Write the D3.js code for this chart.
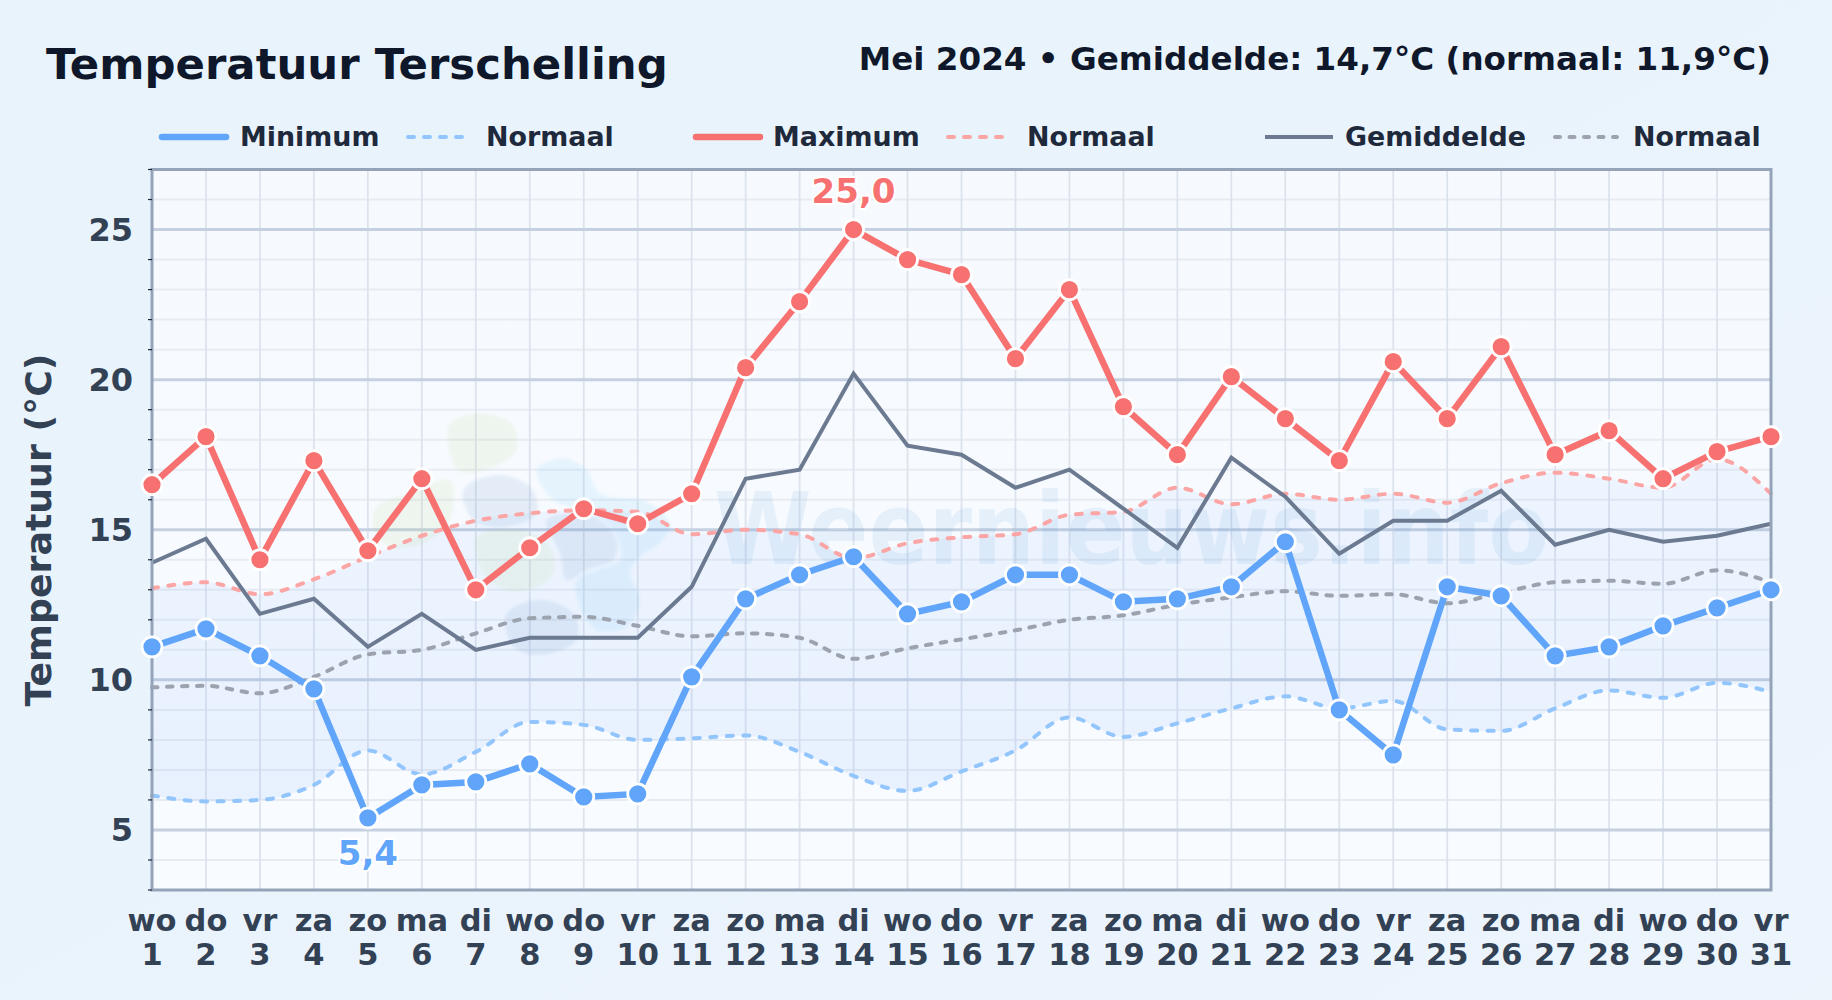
<!DOCTYPE html>
<html><head><meta charset="utf-8">
<script src="https://cdn.jsdelivr.net/npm/d3@7"></script>
<style>html,body{margin:0;padding:0;background:#e9f3fb}svg{display:block}text{font-family:"DejaVu Sans",sans-serif;font-weight:700}</style>
</head><body><svg id="c" width="1832" height="1000"></svg>
<script>
const days=d3.range(1,32);
const weekdays=["wo","do","vr","za","zo","ma","di","wo","do","vr","za","zo","ma","di","wo","do","vr","za","zo","ma","di","wo","do","vr","za","zo","ma","di","wo","do","vr"];
const minT=[11.1,11.7,10.8,9.7,5.4,6.5,6.6,7.2,6.1,6.2,10.1,12.7,13.5,14.1,12.2,12.6,13.5,13.5,12.6,12.7,13.1,14.6,9.0,7.5,13.1,12.8,10.8,11.1,11.8,12.4,13.0];
const maxT=[16.5,18.1,14.0,17.3,14.3,16.7,13.0,14.4,15.7,15.2,16.2,20.4,22.6,25.0,24.0,23.5,20.7,23.0,19.1,17.5,20.1,18.7,17.3,20.6,18.7,21.1,17.5,18.3,16.7,17.6,18.1];
const meanT=[13.9,14.7,12.2,12.7,11.1,12.2,11.0,11.4,11.4,11.4,13.1,16.7,17.0,20.2,17.8,17.5,16.4,17.0,15.7,14.4,17.4,16.1,14.2,15.3,15.3,16.3,14.5,15.0,14.6,14.8,15.2];
const normMin=[6.15,5.95,6.0,6.5,7.65,6.85,7.6,8.6,8.5,8.0,8.05,8.15,7.6,6.8,6.3,6.95,7.65,8.75,8.1,8.55,9.05,9.45,9.05,9.3,8.35,8.3,9.05,9.65,9.4,9.9,9.6];
const normMax=[13.05,13.25,12.85,13.35,14.1,14.8,15.3,15.55,15.65,15.6,14.85,15.0,14.85,14.05,14.55,14.75,14.85,15.5,15.6,16.4,15.85,16.2,16.0,16.2,15.9,16.55,16.9,16.7,16.4,17.35,16.2];
const normMean=[9.75,9.8,9.55,10.1,10.85,11.0,11.55,12.05,12.1,11.8,11.45,11.55,11.4,10.7,11.05,11.35,11.65,12.0,12.15,12.5,12.75,12.95,12.8,12.85,12.55,12.9,13.25,13.3,13.2,13.65,13.25];
const majorTicks=[5,10,15,20,25];
const minorTicks=[3,4,6,7,8,9,11,12,13,14,16,17,18,19,21,22,23,24,26,27];
const title="Temperatuur Terschelling";
const subtitle="Mei 2024 • Gemiddelde: 14,7°C (normaal: 11,9°C)";
const yLabel="Temperatuur (°C)";
const legendItems=[
 {label:"Minimum",color:"#60a5fa",w:6.5,dash:null,cap:"round",x:162,tx:240,len:64},
 {label:"Normaal",color:"#93c5fd",w:4,dash:"6 10",cap:"round",x:408,tx:486,len:56},
 {label:"Maximum",color:"#f87171",w:6.5,dash:null,cap:"round",x:696,tx:773,len:64},
 {label:"Normaal",color:"#fca5a5",w:4,dash:"6 10",cap:"round",x:948,tx:1027,len:56},
 {label:"Gemiddelde",color:"#6b7a90",w:4,dash:null,cap:"butt",x:1265,tx:1345,len:68},
 {label:"Normaal",color:"#9ca3af",w:4,dash:"5 9.5",cap:"round",x:1555,tx:1633,len:62}
];
const P={l:152,r:1771,t:169.5,b:890};
const x=d3.scaleLinear().domain([1,31]).range([P.l,P.r]);
const y=d3.scaleLinear().domain([3,27]).range([P.b,P.t]);
const svg=d3.select("#c");
const defs=svg.append("defs");
const bg=defs.append("linearGradient").attr("id","bg").attr("x1",0).attr("y1",0).attr("x2",1).attr("y2",1);
bg.append("stop").attr("offset",0).attr("stop-color","#e8f3fc");
bg.append("stop").attr("offset",1).attr("stop-color","#ecf4fc");
const pg=defs.append("linearGradient").attr("id","pg").attr("x1",0).attr("y1",0).attr("x2",0).attr("y2",1);
pg.append("stop").attr("offset",0).attr("stop-color","#f6faff");
pg.append("stop").attr("offset",1).attr("stop-color","#f8fbff");
const bandG=defs.append("linearGradient").attr("id","bandG").attr("gradientUnits","userSpaceOnUse").attr("x1",0).attr("x2",0).attr("y1",y(17)).attr("y2",y(6));
bandG.append("stop").attr("offset",0).attr("stop-color","#3b82f6").attr("stop-opacity",0.05);
bandG.append("stop").attr("offset",1).attr("stop-color","#3b82f6").attr("stop-opacity",0.085);
defs.append("filter").attr("id","soft").append("feGaussianBlur").attr("stdDeviation",1.5);
svg.append("rect").attr("width",1832).attr("height",1000).attr("fill","url(#bg)");
svg.append("rect").attr("x",P.l).attr("y",P.t).attr("width",P.r-P.l).attr("height",P.b-P.t).attr("fill","url(#pg)");
defs.append("clipPath").attr("id","clip").append("rect").attr("x",P.l).attr("y",P.t).attr("width",P.r-P.l).attr("height",P.b-P.t);
// grid
const g=svg.append("g");
g.selectAll(".mn").data(minorTicks).join("line").attr("x1",P.l).attr("x2",P.r).attr("y1",d=>y(d)).attr("y2",d=>y(d)).attr("stroke","#e7ecf3").attr("stroke-width",2);
g.selectAll(".vg").data(days).join("line").attr("x1",d=>x(d)).attr("x2",d=>x(d)).attr("y1",P.t).attr("y2",P.b).attr("stroke","#dde3ed").attr("stroke-width",1.8);
g.selectAll(".mj").data(majorTicks).join("line").attr("x1",P.l).attr("x2",P.r).attr("y1",d=>y(d)).attr("y2",d=>y(d)).attr("stroke","#c5d0e0").attr("stroke-width",3);
// band
const area=d3.area().x((d,i)=>x(i+1)).y0(d=>y(d[0])).y1(d=>y(d[1])).curve(d3.curveMonotoneX);
svg.append("path").attr("d",area(normMin.map((v,i)=>[v,normMax[i]]))).attr("fill","url(#bandG)");
const line=c=>d3.line().x((d,i)=>x(i+1)).y(d=>y(d)).curve(c);
// watermark
const wm=svg.append("g").attr("clip-path","url(#clip)").attr("pointer-events","none");
const blob=d3.line().curve(d3.curveCatmullRomClosed.alpha(0.5)).x(p=>380+p[0]/3).y(p=>380+p[1]/3);
const blobs=[
 {c:"#a8d070",o:0.10,s:[[[210,130],[300,100],[395,130],[410,210],[340,262],[240,275],[205,200]],[[-10,380],[100,335],[210,300],[210,420],[130,490],[30,500],[-20,450]],[[290,470],[420,450],[510,500],[515,590],[400,635],[310,580]]]},
 {c:"#3cb0f0",o:0.09,s:[[[470,270],[550,235],[620,270],[660,340],[800,365],[870,430],[840,490],[780,530],[750,580],[780,660],[740,740],[650,750],[600,680],[590,600],[650,570],[720,540],[710,470],[640,400],[520,360]]]},
 {c:"#2f6eb0",o:0.09,s:[[[250,330],[350,285],[450,320],[470,400],[380,440],[280,420]],[[500,420],[640,410],[710,480],[700,540],[620,570],[560,600],[540,520]],[[380,700],[480,660],[580,700],[590,780],[480,825],[400,800]]]}
];
blobs.forEach(b=>wm.append("path").attr("d",b.s.map(s=>blob(s)).join("")).attr("fill",b.c).attr("opacity",b.o).attr("filter","url(#soft)"));
wm.append("text").attr("x",714).attr("y",564).attr("font-size",100).attr("textLength",835).attr("lengthAdjust","spacingAndGlyphs").attr("fill","#3b8bd0").attr("opacity",0.09).text("Weernieuws.info");
// normal lines
const dashLine=(s,c,d)=>svg.append("path").attr("d",line(d3.curveMonotoneX)(s)).attr("fill","none").attr("stroke",c).attr("stroke-width",4).attr("stroke-linecap","round").attr("stroke-dasharray",d);
dashLine(normMin,"#93c5fd","6 10.5");
dashLine(normMax,"#fca5a5","6 10.5");
dashLine(normMean,"#9ca3af","5.5 9.5");
svg.append("path").attr("d",line(d3.curveLinear)(meanT)).attr("fill","none").attr("stroke","#6b7a90").attr("stroke-width",4);
svg.append("path").attr("d",line(d3.curveLinear)(maxT)).attr("fill","none").attr("stroke","#f87171").attr("stroke-width",6.5);
svg.append("path").attr("d",line(d3.curveLinear)(minT)).attr("fill","none").attr("stroke","#60a5fa").attr("stroke-width",6.5);
// frame
svg.append("rect").attr("x",P.l).attr("y",P.t).attr("width",P.r-P.l).attr("height",P.b-P.t).attr("fill","none").attr("stroke","#94a3b8").attr("stroke-width",3);
// ticks
svg.selectAll(".t").data(minorTicks).join("line").attr("x1",P.l-4).attr("x2",P.l).attr("y1",d=>y(d)).attr("y2",d=>y(d)).attr("stroke","#1e293b").attr("stroke-width",1.2);
// points
[[maxT,"#f87171"],[minT,"#60a5fa"]].forEach(([s,c])=>{
 svg.append("g").selectAll("circle").data(s).join("circle").attr("cx",(d,i)=>x(i+1)).attr("cy",d=>y(d)).attr("r",10).attr("fill",c).attr("stroke","#fff").attr("stroke-width",2.8);
});
// axis labels
svg.selectAll(".yl").data(majorTicks).join("text").attr("x",133).attr("y",d=>y(d)).attr("dy","0.36em").attr("text-anchor","end").attr("font-size",32).attr("fill","#334155").text(d=>d);
const xl=svg.append("g");
days.forEach((d,i)=>{
 xl.append("text").attr("x",x(d)).attr("y",931).attr("text-anchor","middle").attr("font-size",30.5).attr("fill","#334155").text(weekdays[i]);
 xl.append("text").attr("x",x(d)).attr("y",965).attr("text-anchor","middle").attr("font-size",30.5).attr("fill","#334155").text(d);
});
svg.append("text").attr("transform","translate(51,530) rotate(-90)").attr("text-anchor","middle").attr("font-size",36.3).attr("fill","#334155").text(yLabel);
svg.append("text").attr("x",46).attr("y",79).attr("font-size",43.4).attr("fill","#0f172a").text(title);
svg.append("text").attr("x",1771).attr("y",70).attr("text-anchor","end").attr("font-size",32.6).attr("fill","#0f172a").text(subtitle);
// legend
legendItems.forEach(it=>{
 svg.append("line").attr("x1",it.x).attr("x2",it.x+it.len).attr("y1",137).attr("y2",137).attr("stroke",it.color).attr("stroke-width",it.w).attr("stroke-linecap",it.cap).attr("stroke-dasharray",it.dash);
 svg.append("text").attr("x",it.tx).attr("y",146).attr("font-size",26.9).attr("fill","#1e293b").text(it.label);
});
// annotations
function ann(v,i,c,dy){
 svg.append("text").attr("x",x(i+1)).attr("y",y(v)+dy).attr("text-anchor","middle").attr("font-size",34).attr("fill",c).attr("stroke","#fff").attr("stroke-width",4).attr("paint-order","stroke").text(String(v.toFixed(1)).replace(".",","));
}
ann(maxT[13],13,"#f87171",-27);
ann(minT[4],4,"#60a5fa",47);
</script></body></html>
